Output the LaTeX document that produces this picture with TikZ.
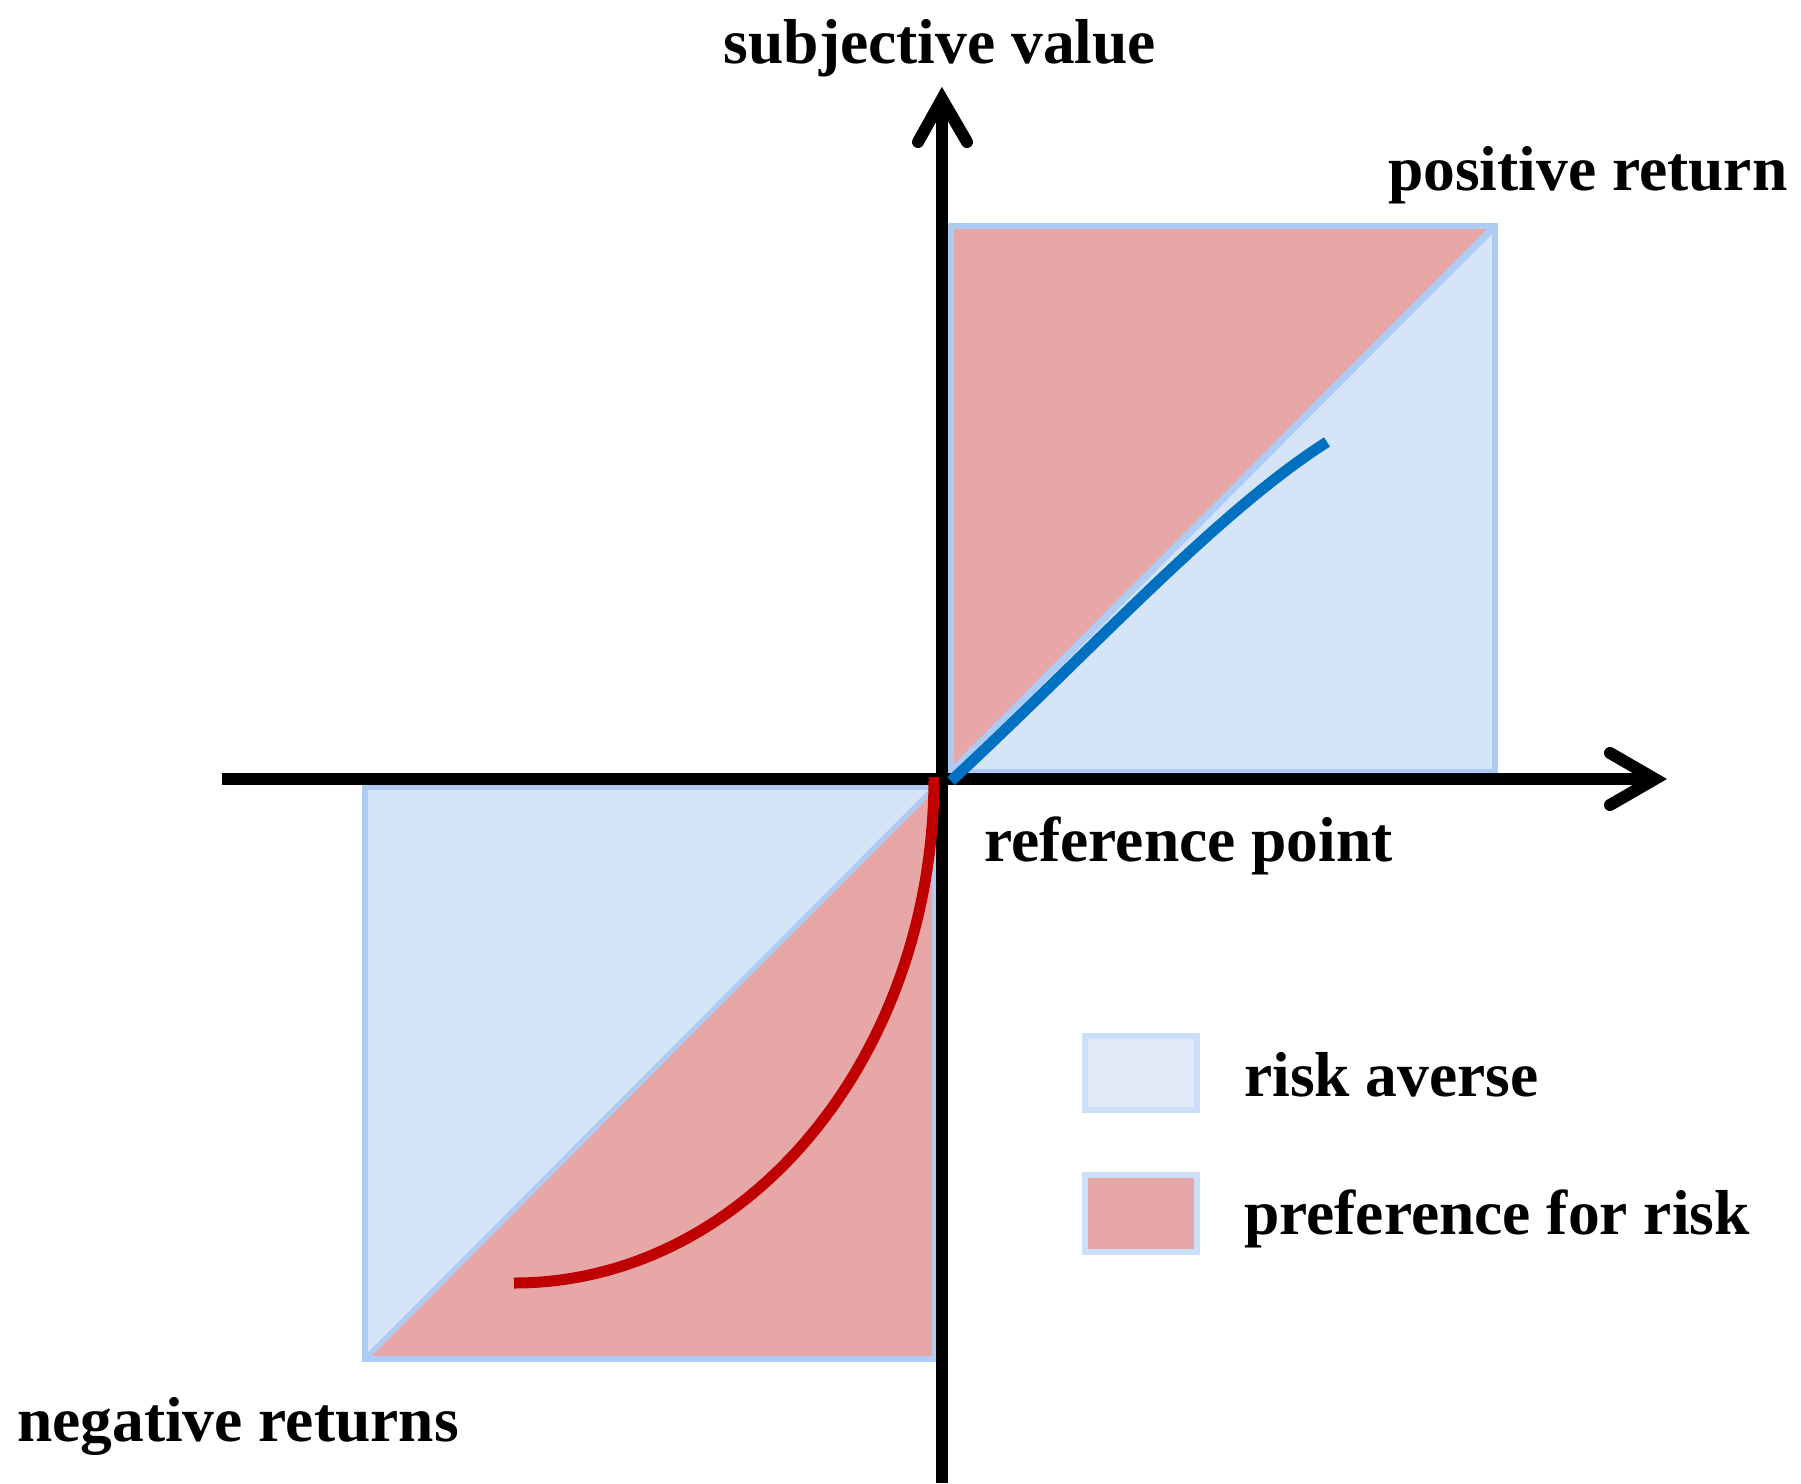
\documentclass[tikz,border=0pt]{standalone}
\usepackage{fontspec}
\setmainfont{Liberation Serif}
\definecolor{rablue}{RGB}{213,228,246}
\definecolor{edgeblue}{RGB}{174,203,244}
\definecolor{prred}{RGB}{232,167,167}
\definecolor{curveblue}{RGB}{0,112,192}
\definecolor{curvered}{RGB}{192,0,0}
\definecolor{legblue}{RGB}{224,234,246}
\definecolor{legedge}{RGB}{204,223,250}
\tikzset{
  lbl/.style={font=\fontsize{63.5}{70}\selectfont\bfseries, inner sep=0pt, anchor=base west},
  axisline/.style={line width=12pt, black},
  headline/.style={line width=12pt, black, line cap=round, line join=miter},
  zoneedge/.style={draw=edgeblue, line width=6pt},
  legbox/.style={draw=legedge, line width=5.5pt},
}
\begin{document}
\begin{tikzpicture}[x=1pt,y=-1pt]
\useasboundingbox (0,0) rectangle (1801,1483);
% upper quadrant zone
\fill[rablue] (951,226) rectangle (1495,772);
\fill[prred] (951,772) -- (951,226) -- (1495,226) -- cycle;
\draw[zoneedge] (951,226) rectangle (1495,772);
\draw[zoneedge, line width=7pt] (951,772) -- (1495,226);
% lower quadrant zone
\fill[rablue] (365,787) rectangle (935,1359);
\fill[prred] (365,1359) -- (935,787) -- (935,1359) -- cycle;
\draw[zoneedge] (365,787) rectangle (935,1359);
\draw[zoneedge, line width=5pt] (365,1359) -- (935,787);
% axes
\coordinate (xl) at (222,779);
\coordinate (xr) at (1650,779);
\coordinate (yb) at (942,1483);
\coordinate (yt) at (942,100);
\draw[axisline] (xl) -- (xr);
\draw[axisline] (yb) -- (yt);
\draw[headline] (1610,753) -- (1655,779) -- (1610,805);
\draw[headline] (918,142) -- (942,99) -- (967,142);
% curves
\coordinate (o1) at (951,781);
\coordinate (bend) at (1327,442);
\draw[curveblue, line width=11pt] (o1) .. controls (1091,651) and (1217,512) .. (bend);
\coordinate (o2) at (934,777);
\coordinate (rend) at (514,1283);
\draw[curvered, line width=11pt] (o2) .. controls (934,1057) and (746,1283) .. (rend);
% legend
\draw[legbox, fill=legblue] (1085,1036) rectangle (1197,1110);
\draw[legbox, fill=prred] (1085,1175) rectangle (1197,1252);
% labels
\node[lbl, anchor=base] (sv) at (940,63) {subjective value};
\node[lbl] (pr) at (1388,190) {positive return};
\node[lbl] (rp) at (984,861) {reference point};
\node[lbl] (ra) at (1244,1096) {risk averse};
\node[lbl] (pf) at (1244,1234) {preference for risk};
\node[lbl] (nr) at (17,1441) {negative returns};
\end{tikzpicture}
\end{document}
